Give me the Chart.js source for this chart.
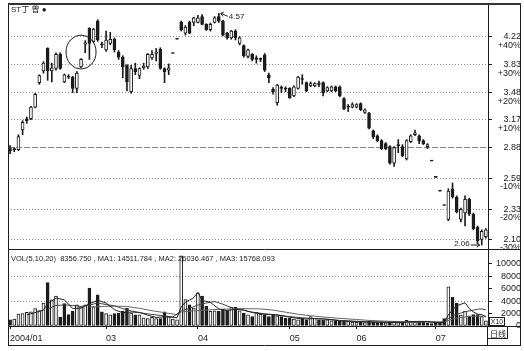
<!DOCTYPE html>
<html>
<head>
<meta charset="utf-8">
<style>
  html, body { margin: 0; padding: 0; background: #fff; }
  canvas { display: block; }
</style>
<script src="https://cdn.jsdelivr.net/npm/chart.js@4/dist/chart.umd.min.js"></script>
</head>
<body>
<canvas id="kline" width="524" height="351"></canvas>
<script>
const UI_FONT = '"Liberation Sans", Arial, "Noto Sans CJK SC", sans-serif';
const INK = "#1c1c1c";
const GRID = "#8a8a8a";

// daily candles, 2004/01 .. 2004/07
const opens = [
  2.87, 2.86, 2.86, 3.06, 3.18, 3.18, 3.31, 3.60, 3.75, 4.05,
  3.75, 3.78, 3.97, 3.61, 3.68, 3.67, 3.53, 3.80, 4.11, 4.34,
  4.15, 4.45, 4.10, 4.03, 4.12, 4.18, 4.00, 3.93, 3.82, 3.49,
  3.78, 3.69, 3.79, 3.80, 3.92, 3.98, 4.04, 3.78, 3.76, 3.98,
  4.18, 4.43, 4.27, 4.43, 4.43, 4.43, 4.52, 4.40, 4.32, 4.43,
  4.52, 4.45, 4.27, 4.20, 4.30, 4.12, 4.09, 3.94, 3.97, 3.92,
  3.90, 3.96, 3.70, 3.52, 3.36, 3.53, 3.52, 3.53, 3.44, 3.53,
  3.64, 3.60, 3.56, 3.56, 3.58, 3.60, 3.50, 3.50, 3.55, 3.55,
  3.41, 3.31, 3.31, 3.31, 3.35, 3.25, 3.24, 3.05, 3.00, 2.95,
  2.92, 2.89, 2.73, 2.90, 2.89, 2.77, 2.94, 3.01, 3.00, 2.95,
  2.89, 2.75, 2.60, 2.48, 2.36, 2.25, 2.50, 2.43, 2.25, 2.30,
  2.41, 2.29, 2.19, 2.10, 2.12
];
const highs = [
  2.90, 2.88, 3.01, 3.16, 3.20, 3.32, 3.47, 3.70, 3.87, 4.06,
  3.85, 3.99, 3.99, 3.71, 3.70, 3.68, 3.74, 3.91, 4.16, 4.35,
  4.34, 4.47, 4.14, 4.30, 4.28, 4.20, 4.02, 3.95, 3.83, 3.82,
  3.85, 3.79, 3.85, 3.98, 4.02, 4.05, 4.06, 3.79, 3.84, 3.98,
  4.18, 4.45, 4.38, 4.45, 4.51, 4.54, 4.55, 4.41, 4.42, 4.52,
  4.57, 4.46, 4.28, 4.31, 4.32, 4.22, 4.10, 4.04, 3.98, 3.95,
  3.92, 3.98, 3.72, 3.54, 3.58, 3.56, 3.55, 3.54, 3.56, 3.68,
  3.70, 3.61, 3.61, 3.60, 3.62, 3.61, 3.55, 3.56, 3.56, 3.56,
  3.42, 3.34, 3.36, 3.35, 3.36, 3.29, 3.25, 3.06, 3.01, 2.96,
  2.93, 2.90, 2.89, 2.96, 2.91, 2.96, 3.01, 3.06, 3.01, 2.96,
  2.92, 2.75, 2.60, 2.48, 2.36, 2.50, 2.55, 2.44, 2.34, 2.44,
  2.42, 2.30, 2.20, 2.17, 2.18
];
const lows = [
  2.82, 2.84, 2.85, 3.01, 3.13, 3.17, 3.30, 3.58, 3.72, 3.63,
  3.61, 3.76, 3.77, 3.60, 3.65, 3.48, 3.48, 3.79, 3.99, 3.90,
  4.13, 4.15, 4.06, 4.01, 4.10, 4.00, 3.90, 3.66, 3.50, 3.47,
  3.70, 3.65, 3.77, 3.78, 3.90, 3.88, 3.77, 3.60, 3.70, 3.98,
  4.18, 4.30, 4.24, 4.26, 4.38, 4.42, 4.39, 4.31, 4.30, 4.42,
  4.43, 4.23, 4.18, 4.18, 4.17, 4.10, 3.93, 3.92, 3.88, 3.85,
  3.87, 3.74, 3.60, 3.46, 3.33, 3.48, 3.49, 3.41, 3.43, 3.52,
  3.58, 3.49, 3.55, 3.55, 3.55, 3.44, 3.49, 3.49, 3.49, 3.43,
  3.28, 3.26, 3.30, 3.30, 3.27, 3.24, 3.07, 2.97, 2.94, 2.86,
  2.86, 2.72, 2.70, 2.83, 2.79, 2.76, 2.93, 3.00, 2.92, 2.91,
  2.87, 2.75, 2.60, 2.48, 2.36, 2.24, 2.42, 2.30, 2.23, 2.20,
  2.28, 2.17, 2.07, 2.06, 2.11
];
const closes = [
  2.85, 2.86, 2.99, 3.14, 3.16, 3.31, 3.46, 3.69, 3.85, 3.75,
  3.79, 3.97, 3.78, 3.70, 3.67, 3.53, 3.72, 3.90, 4.13, 4.12,
  4.33, 4.17, 4.10, 4.17, 4.18, 4.03, 3.93, 3.80, 3.61, 3.78,
  3.74, 3.78, 3.81, 3.97, 3.97, 4.00, 3.78, 3.74, 3.79, 3.98,
  4.18, 4.32, 4.36, 4.27, 4.50, 4.50, 4.40, 4.32, 4.40, 4.50,
  4.45, 4.24, 4.20, 4.30, 4.20, 4.20, 3.95, 4.03, 3.90, 3.90,
  3.90, 3.76, 3.66, 3.49, 3.57, 3.53, 3.52, 3.42, 3.55, 3.67,
  3.64, 3.50, 3.59, 3.59, 3.58, 3.48, 3.54, 3.55, 3.50, 3.44,
  3.29, 3.31, 3.34, 3.34, 3.28, 3.28, 3.08, 2.99, 2.95, 2.87,
  2.87, 2.73, 2.88, 2.90, 2.80, 2.95, 3.00, 3.03, 2.95, 2.92,
  2.91, 2.75, 2.60, 2.48, 2.36, 2.48, 2.43, 2.31, 2.33, 2.41,
  2.29, 2.18, 2.09, 2.16, 2.17
];
// volume in lots x10
const volumes = [
  1000, 1100, 1900, 2000, 2200, 2300, 2800, 2500, 3700, 7000,
  4200, 4800, 1450, 3600, 1850, 2400, 3400, 3100, 3400, 6100,
  3100, 5000, 2300, 2000, 1800, 2000, 2100, 2400, 2850, 2100,
  1800, 1800, 1300, 1200, 1400, 1200, 1200, 2300, 1500, 1100,
  1000, 11300, 4250, 3400, 2900, 5300, 4800, 3150, 2350, 2450,
  2350, 2700, 2350, 3000, 3000, 2450, 2100, 1800, 1500, 2200,
  1900, 1800, 1500, 1800, 1650, 1500, 1250, 1250, 1100, 1000,
  1250, 1000, 1500, 1250, 1000, 900, 1000, 850, 800, 750,
  900, 700, 650, 600, 650, 550, 800, 600, 550, 600,
  500, 650, 700, 550, 600, 900, 800, 650, 700, 600,
  500, 400, 450, 500, 1200, 6300, 4600, 3650, 1750, 2400,
  1650, 1850, 1850, 1500, 836
];

// volume moving averages: [candle index, value]
const ma1Points = [
  [4, 1800], [8, 2540], [9, 3640], [10, 4040], [11, 4500], [13, 4210], [15, 2820], [17, 2870],
  [19, 3570], [21, 4140], [23, 3700], [25, 2640], [27, 2120], [29, 2250], [31, 2190], [33, 1740],
  [35, 1380], [37, 1480], [39, 1420], [40, 1320], [41, 3080], [42, 3830], [43, 4190], [44, 4570],
  [45, 5430], [46, 4130], [48, 3800], [50, 2740], [52, 2480], [54, 2690], [56, 2580], [58, 2170],
  [61, 1880], [63, 1840], [65, 1680], [67, 1430], [69, 1220], [71, 1120], [73, 1200], [75, 1130],
  [77, 1000], [79, 830], [81, 770], [84, 670], [86, 640], [88, 620], [90, 600], [92, 590],
  [94, 600], [96, 680], [98, 740], [100, 730], [101, 620], [102, 560], [103, 520], [104, 600],
  [105, 1770], [106, 2610], [107, 3250], [108, 3500], [109, 3740], [110, 2810], [111, 2260],
  [112, 1900], [113, 1850], [114, 1450]
];
const ma2Points = [
  [9, 2750], [11, 3300], [13, 3400], [15, 3300], [17, 3150], [19, 3370], [21, 3700], [23, 3450],
  [25, 3250], [27, 2800], [29, 2430], [31, 2150], [33, 1960], [35, 1780], [37, 1620], [39, 1450],
  [41, 2440], [43, 2840], [45, 3380], [47, 3710], [49, 3950], [51, 3510], [53, 2970], [55, 2690],
  [57, 2360], [59, 2130], [62, 1890], [64, 1780], [66, 1580], [68, 1440], [70, 1320], [73, 1200],
  [76, 1100], [79, 900], [83, 760], [86, 680], [90, 620], [95, 620], [100, 690], [103, 600],
  [104, 640], [105, 1190], [106, 1600], [107, 1920], [108, 2080], [109, 2320], [110, 2420],
  [111, 2560], [112, 2700], [113, 2750], [114, 2600]
];
const ma3Points = [
  [19, 3050], [22, 3150], [25, 3200], [28, 3150], [31, 2850], [34, 2460], [37, 2150], [40, 1820],
  [41, 2260], [44, 2440], [47, 2570], [50, 2680], [53, 2740], [56, 2800], [60, 2750], [63, 2560],
  [66, 2230], [69, 1890], [72, 1650], [75, 1450], [79, 1230], [83, 1050], [86, 900], [90, 780],
  [95, 660], [100, 660], [104, 650], [106, 1130], [108, 1360], [110, 1520], [112, 1600], [114, 1580]
];

const priceTicks = [2.10, 2.33, 2.59, 2.88, 3.17, 3.48, 3.83, 4.22];
const pctLabels = ["-30%", "-20%", "-10%", "", "+10%", "+20%", "+30%", "+40%"];
const volTicks = [0, 2000, 4000, 6000, 8000, 10000];
const volGridTicks = [4000, 8000];
const dateTickIdx = [0, 23, 45, 67, 83, 102];
const dateTickText = ["2004/01", "03", "04", "05", "06", "07"];

const volHeader = "VOL(5,10,20)  8356.750 , MA1: 14511.784 , MA2: 26036.467 , MA3: 15768.093";
const titleText = "ST丁 曾 ●";

const N = opens.length;
const labels = opens.map((_, i) => String(i));
const bodies = opens.map((o, i) => [o, closes[i]]);
const wicks = highs.map((h, i) => [lows[i], h]);

function sparse(points) {
  const out = new Array(N).fill(null);
  points.forEach(([i, v]) => { out[i] = v; });
  return out;
}

function candleUp(i) {
  return closes[i] > opens[i];
}

function volUp(i) {
  const prev = i > 0 ? closes[i - 1] : opens[i];
  return closes[i] >= prev;
}

// keep the plot area where the frame is, labels may hang over
function noPad(s) {
  s.paddingTop = 0;
  s.paddingBottom = 0;
  s.paddingLeft = 0;
  s.paddingRight = 0;
}

const decor = {
  id: "decor",
  beforeDraw(chart) {
    const { ctx } = chart;
    ctx.save();
    ctx.fillStyle = "#fff";
    ctx.fillRect(0, 0, chart.width, chart.height);
    ctx.restore();
  },
  afterDraw(chart) {
    const { ctx, scales } = chart;
    const x = scales.x;
    const y = scales.y;
    ctx.save();

    // frame
    ctx.strokeStyle = INK;
    ctx.lineWidth = 1;
    ctx.beginPath();
    ctx.moveTo(8.5, 4); ctx.lineTo(8.5, 345.5);
    ctx.moveTo(520.5, 4); ctx.lineTo(520.5, 345.5);
    ctx.moveTo(8, 345.5); ctx.lineTo(521, 345.5);
    ctx.moveTo(8, 249.5); ctx.lineTo(521, 249.5);
    ctx.moveTo(488, 326.5); ctx.lineTo(521, 326.5);
    ctx.moveTo(487.5, 326); ctx.lineTo(487.5, 345.5);
    ctx.stroke();
    ctx.lineWidth = 2;
    ctx.strokeStyle = "#333";
    ctx.beginPath();
    ctx.moveTo(8, 4); ctx.lineTo(521, 4);
    ctx.stroke();

    // texts
    ctx.fillStyle = INK;
    ctx.strokeStyle = INK;
    ctx.textBaseline = "middle";
    ctx.textAlign = "left";
    ctx.font = '8px "Liberation Sans", "Noto Sans CJK SC", sans-serif';
    ctx.fillText(titleText, 11, 10);
    ctx.font = '7.5px "Liberation Sans", sans-serif';
    ctx.fillText(volHeader, 11, 259);

    // X10 unit box
    ctx.lineWidth = 1;
    ctx.strokeRect(489.5, 317.5, 15, 8);
    ctx.font = '7px "Liberation Sans", sans-serif';
    ctx.textAlign = "center";
    ctx.fillText("X10", 497, 321.8);

    // period box
    ctx.font = '8px "Noto Sans CJK SC", sans-serif';
    ctx.textAlign = "left";
    ctx.fillText("日线", 490, 334);
    ctx.strokeRect(487.5, 326.5, 20, 12);

    // max marker
    const iMax = highs.indexOf(Math.max(...highs));
    const mx = x.getPixelForValue(iMax);
    const my = y.getPixelForValue(highs[iMax]);
    ctx.beginPath();
    ctx.moveTo(mx + 2, my); ctx.lineTo(mx + 9, my + 3);
    ctx.moveTo(mx + 2, my); ctx.lineTo(mx + 5, my - 1);
    ctx.moveTo(mx + 2, my); ctx.lineTo(mx + 4, my + 3);
    ctx.stroke();
    ctx.font = '8px "Liberation Sans", sans-serif';
    ctx.fillText(highs[iMax].toFixed(2), mx + 10, my + 3);

    // min marker
    const iMin = lows.indexOf(Math.min(...lows));
    const nx = x.getPixelForValue(iMin);
    const ny = y.getPixelForValue(lows[iMin]);
    ctx.beginPath();
    ctx.moveTo(nx - 11, ny); ctx.lineTo(nx - 2, ny);
    ctx.moveTo(nx - 2, ny); ctx.lineTo(nx - 5, ny - 2);
    ctx.moveTo(nx - 2, ny); ctx.lineTo(nx - 5, ny + 2);
    ctx.stroke();
    ctx.textAlign = "right";
    ctx.fillText(lows[iMin].toFixed(2), nx - 12, ny - 1);

    // hand drawn circle
    const cx = x.getPixelForValue(17);
    const cy = y.getPixelForValue(4.0);
    ctx.beginPath();
    ctx.ellipse(cx, cy, 15, 17, 0, 0, Math.PI * 2);
    ctx.stroke();

    ctx.restore();
  }
};

new Chart(document.getElementById("kline").getContext("2d"), {
  type: "bar",
  data: {
    labels,
    datasets: [
      {
        label: "MA1",
        type: "line",
        yAxisID: "yVol",
        data: sparse(ma1Points),
        borderColor: "#222",
        borderWidth: 1,
        pointRadius: 0,
        spanGaps: true,
        tension: 0,
        order: 0
      },
      {
        label: "MA2",
        type: "line",
        yAxisID: "yVol",
        data: sparse(ma2Points),
        borderColor: "#444",
        borderWidth: 1,
        pointRadius: 0,
        spanGaps: true,
        tension: 0,
        order: 0
      },
      {
        label: "MA3",
        type: "line",
        yAxisID: "yVol",
        data: sparse(ma3Points),
        borderColor: "#666",
        borderWidth: 1,
        pointRadius: 0,
        spanGaps: true,
        tension: 0,
        order: 0
      },
      {
        label: "body",
        yAxisID: "y",
        data: bodies,
        grouped: false,
        barThickness: 3,
        minBarLength: 1,
        borderWidth: 1,
        borderSkipped: false,
        borderColor: INK,
        backgroundColor: (c) => (candleUp(c.dataIndex) ? "#fff" : INK),
        order: 1
      },
      {
        label: "wick",
        yAxisID: "y",
        data: wicks,
        grouped: false,
        barThickness: 1,
        borderWidth: 0,
        backgroundColor: INK,
        order: 2
      },
      {
        label: "VOL",
        yAxisID: "yVol",
        data: volumes,
        grouped: false,
        barThickness: 3,
        borderWidth: 1,
        borderSkipped: false,
        borderColor: INK,
        backgroundColor: (c) => (volUp(c.dataIndex) ? "#fff" : INK),
        order: 1
      }
    ]
  },
  options: {
    responsive: false,
    animation: false,
    devicePixelRatio: 1,
    layout: { padding: { left: 8, top: 4, right: 3, bottom: 5 } },
    plugins: { legend: { display: false }, tooltip: { enabled: false } },
    scales: {
      x: {
        type: "category",
        offset: true,
        afterFit: (s) => { s.height = 20; noPad(s); },
        grid: {
          display: true,
          drawOnChartArea: false,
          offset: false,
          tickLength: 3,
          color: (c) => (dateTickIdx.includes(c.index) ? INK : "rgba(0,0,0,0)")
        },
        border: { display: true, color: INK, width: 1 },
        ticks: {
          autoSkip: false,
          maxRotation: 0,
          minRotation: 0,
          align: "start",
          padding: 4,
          color: INK,
          font: { family: UI_FONT, size: 9 },
          callback: (v, i) => {
            const k = dateTickIdx.indexOf(i);
            return k >= 0 ? dateTickText[k] : "";
          }
        }
      },
      y: {
        type: "logarithmic",
        position: "right",
        stack: "k",
        stackWeight: 245,
        min: 2.032,
        max: 4.719,
        afterBuildTicks: (s) => { s.ticks = priceTicks.map((v) => ({ value: v })); },
        afterFit: (s) => { s.width = 33; noPad(s); },
        grid: {
          color: GRID,
          lineWidth: 1,
          tickLength: 4,
          tickColor: INK,
          tickBorderDash: []
        },
        border: {
          display: true,
          color: INK,
          dash: (c) => (c.tick && c.tick.value === 2.88 ? [6, 2] : [1, 2])
        },
        ticks: {
          autoSkip: false,
          crossAlign: "far",
          padding: 2,
          color: INK,
          font: { family: UI_FONT, size: 9, lineHeight: 0.95 },
          callback: (v, i) => {
            const p = priceTicks[i].toFixed(2);
            return pctLabels[i] ? ["", p, pctLabels[i]] : [p];
          }
        }
      },
      yVol: {
        type: "linear",
        position: "right",
        stack: "k",
        stackWeight: 77,
        min: 0,
        max: 12400,
        afterBuildTicks: (s) => { s.ticks = volTicks.map((v) => ({ value: v })); },
        afterFit: (s) => { s.width = 33; noPad(s); },
        grid: {
          color: (c) => (c.tick && volGridTicks.includes(c.tick.value) ? GRID : "rgba(0,0,0,0)"),
          lineWidth: 1,
          tickLength: 4,
          tickColor: INK,
          tickBorderDash: []
        },
        border: { display: true, color: INK, dash: [1, 2] },
        ticks: {
          autoSkip: false,
          crossAlign: "far",
          padding: 1,
          color: INK,
          font: { family: UI_FONT, size: 9 },
          callback: (v) => String(v)
        }
      }
    }
  },
  plugins: [decor]
});
</script>
</body>
</html>
